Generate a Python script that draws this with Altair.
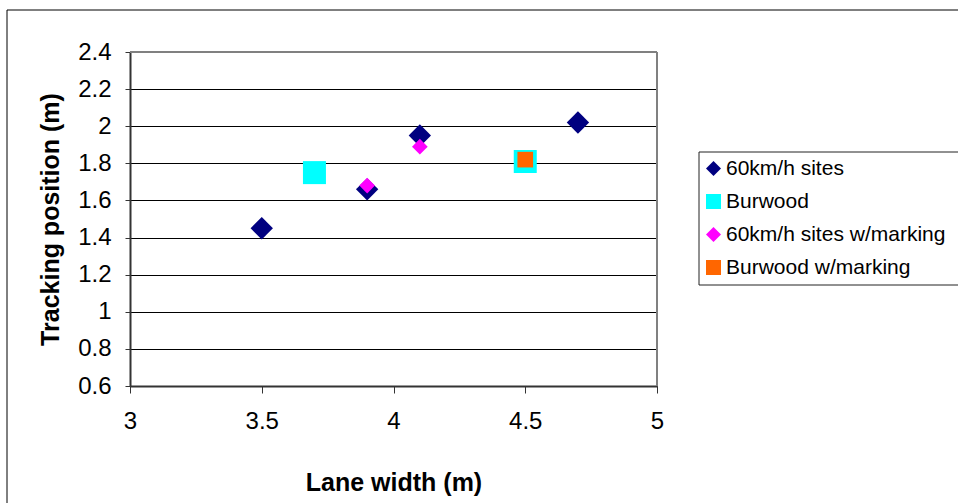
import altair as alt
import pandas as pd

# Series definitions (legend order)
series_names = ["60km/h sites", "Burwood", "60km/h sites w/marking", "Burwood w/marking"]
series_colors = ["#000080", "#00FFFF", "#FF00FF", "#FF6600"]
series_shapes = ["diamond", "square", "diamond", "square"]
marker_sizes = [500, 529, 245, 245]

# Measured points: lane width (m) vs tracking position (m)
site_x = [3.5, 3.9, 4.1, 4.7]
site_y = [1.45, 1.66, 1.95, 2.02]
burwood_x = [3.7, 4.5]
burwood_y = [1.75, 1.81]
site_mark_x = [3.9, 4.1]
site_mark_y = [1.68, 1.89]
burwood_mark_x = [4.5]
burwood_mark_y = [1.82]

x_ticks = [3, 3.5, 4, 4.5, 5]
y_ticks = [0.6, 0.8, 1.0, 1.2, 1.4, 1.6, 1.8, 2.0, 2.2, 2.4]

FONT = "Liberation Sans"
W, H = 527, 334

xs = [site_x, burwood_x, site_mark_x, burwood_mark_x]
ys = [site_y, burwood_y, site_mark_y, burwood_mark_y]
rows = []
for name, sx, sy in zip(series_names, xs, ys):
    for a, b in zip(sx, sy):
        rows.append({"series": name, "lane": a, "track": b})
df = pd.DataFrame(rows)

x_enc = alt.X(
    "lane:Q",
    scale=alt.Scale(domain=[3, 5], nice=False, zero=False),
    axis=alt.Axis(
        values=x_ticks, format="~g", title="Lane width (m)", grid=False,
        tickSize=7, labelPadding=16, labelFlush=False,
        titleBaseline="alphabetic", titleY=104,
    ),
)
y_enc = alt.Y(
    "track:Q",
    scale=alt.Scale(domain=[0.6, 2.4], nice=False, zero=False),
    axis=alt.Axis(
        values=y_ticks, format=".1~f", title="Tracking position (m)", grid=True,
        tickSize=5, labelPadding=14, labelFlush=False,
        titleBaseline="alphabetic", titleX=-72, titleY=H / 2,
    ),
)
color_enc = alt.Color(
    "series:N",
    scale=alt.Scale(domain=series_names, range=series_colors),
    legend=alt.Legend(title=None),
)
shape_enc = alt.Shape(
    "series:N",
    scale=alt.Scale(domain=series_names, range=series_shapes),
    legend=alt.Legend(title=None),
)

point_layers = []
for name, size in zip(series_names, marker_sizes):
    point_layers.append(
        alt.Chart(df)
        .transform_filter(alt.datum.series == name)
        .mark_point(filled=True, opacity=1, size=size, strokeWidth=0)
        .encode(x=x_enc, y=y_enc, color=color_enc, shape=shape_enc)
    )

one = pd.DataFrame({"k": [0]})


def hline(y, x1, x2, color, width):
    return alt.Chart(one).mark_rule(color=color, strokeWidth=width).encode(
        y=alt.value(y), x=alt.value(x1), x2=alt.value(x2)
    )


def vline(x, y1, y2, color, width):
    return alt.Chart(one).mark_rule(color=color, strokeWidth=width).encode(
        x=alt.value(x), y=alt.value(y1), y2=alt.value(y2)
    )


frames = [
    # plot-area border (top and right)
    hline(0, 0, W, "#808080", 2),
    vline(W, 0, H, "#808080", 2),
    # outer chart frame
    hline(-42, -123, 900, "#000000", 1),
    vline(-123, -42, 520, "#000000", 1),
    # legend frame
    hline(100, 569, 900, "#222222", 1),
    hline(233, 569, 900, "#222222", 1),
    vline(569, 100, 233, "#222222", 1),
]

chart = (
    alt.layer(*frames, *point_layers)
    .properties(
        width=W,
        height=H,
        padding={"left": 130, "top": 52, "right": 958 - 130 - W, "bottom": 503 - 52 - H},
        autosize=alt.AutoSizeParams(type="none"),
        background="white",
    )
    .configure_view(stroke="transparent")
    .configure_axis(
        labelFont=FONT, labelFontSize=24, labelColor="#000000",
        titleFont=FONT, titleFontSize=25, titleFontWeight="bold", titleColor="#000000",
        domainColor="#333333", domainWidth=2, tickColor="#333333", tickWidth=1,
        gridColor="#000000", gridWidth=1, gridOpacity=1,
    )
    .configure_legend(
        orient="none", legendX=569, legendY=102, padding=4,
        labelFont=FONT, labelFontSize=21, labelColor="#000000", labelLimit=400,
        symbolSize=225, symbolStrokeWidth=0, rowPadding=11, labelOffset=2,
        strokeColor="transparent",
    )
)

chart.save("out.html", embed_options={"renderer": "svg", "actions": False})
